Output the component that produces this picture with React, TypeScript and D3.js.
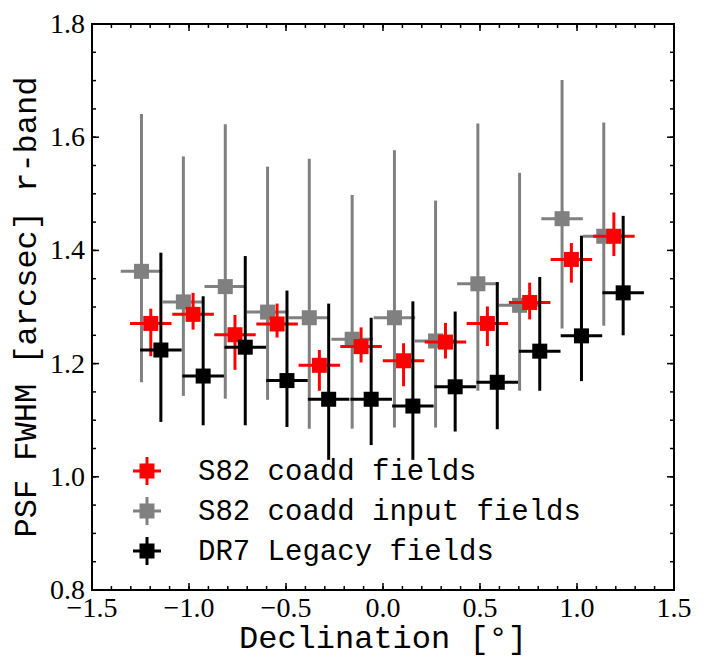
import { useEffect, useRef } from "react";
import * as d3 from "d3";

// ── Data ───────────────────────────────────────────────────────────────────────
const coaddDec = [-1.197, -0.979, -0.763, -0.546, -0.328, -0.113, 0.106, 0.322, 0.538, 0.756, 0.971, 1.19];
const coaddFwhm = [1.271, 1.287, 1.251, 1.27, 1.197, 1.23, 1.205, 1.238, 1.271, 1.308, 1.384, 1.425];
const coaddHi = [1.297, 1.325, 1.286, 1.306, 1.224, 1.264, 1.236, 1.272, 1.301, 1.343, 1.413, 1.467];
const coaddLo = [1.213, 1.26, 1.189, 1.246, 1.152, 1.202, 1.16, 1.209, 1.231, 1.278, 1.343, 1.39];

const inputDec = [-1.245, -1.029, -0.813, -0.595, -0.38, -0.159, 0.059, 0.271, 0.489, 0.704, 0.923, 1.138];
const inputFwhm = [1.363, 1.309, 1.336, 1.291, 1.281, 1.243, 1.281, 1.24, 1.341, 1.303, 1.456, 1.425];
const inputHi = [1.641, 1.566, 1.623, 1.548, 1.562, 1.498, 1.577, 1.488, 1.624, 1.537, 1.701, 1.626];
const inputLo = [1.167, 1.143, 1.138, 1.136, 1.085, 1.085, 1.087, 1.087, 1.152, 1.152, 1.262, 1.267];

const legacyDec = [-1.145, -0.927, -0.71, -0.495, -0.28, -0.061, 0.154, 0.372, 0.589, 0.808, 1.023, 1.238];
const legacyFwhm = [1.224, 1.178, 1.229, 1.17, 1.137, 1.137, 1.125, 1.159, 1.167, 1.222, 1.249, 1.325];
const legacyHi = [1.396, 1.319, 1.39, 1.329, 1.306, 1.281, 1.31, 1.292, 1.344, 1.353, 1.426, 1.461];
const legacyLo = [1.097, 1.091, 1.091, 1.088, 1.03, 1.056, 1.03, 1.08, 1.084, 1.152, 1.169, 1.25];

const binHalfWidth = 0.107;

const xTicks = [-1.5, -1.0, -0.5, 0.0, 0.5, 1.0, 1.5];
const yTicks = [0.8, 1.0, 1.2, 1.4, 1.6, 1.8];

// ── Component ──────────────────────────────────────────────────────────────────
export default function App() {
  const svgRef = useRef<SVGSVGElement>(null);

  useEffect(() => {
    if (!svgRef.current) return;

    const width = 708;
    const height = 670;
    const margin = { top: 24, right: 34, bottom: 80, left: 92 };
    const innerWidth = width - margin.left - margin.right;
    const innerHeight = height - margin.top - margin.bottom;

    const x = d3.scaleLinear().domain([-1.5, 1.5]).range([0, innerWidth]);
    const y = d3.scaleLinear().domain([0.8, 1.8]).range([innerHeight, 0]);

    const svg = d3.select(svgRef.current);
    svg.selectAll("*").remove();

    const g = svg
      .append("g")
      .attr("transform", `translate(${margin.left},${margin.top})`);

    // ── Error bar series (gray under red under black) ─────────────────────────
    type Pt = { x: number; y: number; lo: number; hi: number };
    const series = [
      { color: "#808080", dec: inputDec, v: inputFwhm, lo: inputLo, hi: inputHi },
      { color: "#ff0000", dec: coaddDec, v: coaddFwhm, lo: coaddLo, hi: coaddHi },
      { color: "#000000", dec: legacyDec, v: legacyFwhm, lo: legacyLo, hi: legacyHi },
    ];

    series.forEach((s) => {
      const pts: Pt[] = s.dec.map((d, i) => ({ x: d, y: s.v[i], lo: s.lo[i], hi: s.hi[i] }));
      const sg = g.append("g");
      const pg = sg.selectAll("g").data(pts).enter().append("g");
      pg.append("line")
        .attr("x1", (d) => x(d.x))
        .attr("x2", (d) => x(d.x))
        .attr("y1", (d) => y(d.lo))
        .attr("y2", (d) => y(d.hi))
        .attr("stroke", s.color)
        .attr("stroke-width", 3);
      pg.append("line")
        .attr("x1", (d) => x(d.x - binHalfWidth))
        .attr("x2", (d) => x(d.x + binHalfWidth))
        .attr("y1", (d) => y(d.y))
        .attr("y2", (d) => y(d.y))
        .attr("stroke", s.color)
        .attr("stroke-width", 3);
      pg.append("rect")
        .attr("x", (d) => x(d.x) - 7.5)
        .attr("y", (d) => y(d.y) - 7.5)
        .attr("width", 15)
        .attr("height", 15)
        .attr("fill", s.color);
    });

    // ── Ticks (inward, all four sides) ─────────────────────────────────────────
    const xMinor = d3.range(-1.5, 1.5001, 0.1);
    const yMinor = d3.range(0.8, 1.8001, 0.05);
    const tickG = g.append("g").attr("stroke", "#000").attr("stroke-width", 1.5);
    const addX = (vals: number[], len: number) => {
      vals.forEach((v) => {
        tickG.append("line").attr("x1", x(v)).attr("x2", x(v)).attr("y1", innerHeight).attr("y2", innerHeight - len);
        tickG.append("line").attr("x1", x(v)).attr("x2", x(v)).attr("y1", 0).attr("y2", len);
      });
    };
    const addY = (vals: number[], len: number) => {
      vals.forEach((v) => {
        tickG.append("line").attr("x1", 0).attr("x2", len).attr("y1", y(v)).attr("y2", y(v));
        tickG.append("line").attr("x1", innerWidth).attr("x2", innerWidth - len).attr("y1", y(v)).attr("y2", y(v));
      });
    };
    addX(xMinor, 4);
    addX(xTicks, 7);
    addY(yMinor, 4);
    addY(yTicks, 7);

    // frame
    g.append("rect")
      .attr("width", innerWidth)
      .attr("height", innerHeight)
      .attr("fill", "none")
      .attr("stroke", "#000")
      .attr("stroke-width", 2);

    // ── Tick labels ────────────────────────────────────────────────────────────
    const fmt = d3.format(".1f");
    g.append("g")
      .selectAll("text")
      .data(xTicks)
      .enter()
      .append("text")
      .attr("x", (d) => x(d))
      .attr("y", innerHeight + 27)
      .attr("text-anchor", "middle")
      .attr("font-family", "'Liberation Serif', serif")
      .attr("font-size", 28)
      .text((d) => fmt(d));

    g.append("g")
      .selectAll("text")
      .data(yTicks)
      .enter()
      .append("text")
      .attr("x", -7)
      .attr("y", (d) => y(d) + 9)
      .attr("text-anchor", "end")
      .attr("font-family", "'Liberation Serif', serif")
      .attr("font-size", 28)
      .text((d) => fmt(d));

    // ── Axis labels ────────────────────────────────────────────────────────────
    g.append("text")
      .attr("x", innerWidth / 2)
      .attr("y", innerHeight + 58)
      .attr("text-anchor", "middle")
      .attr("font-family", "'Liberation Mono', monospace")
      .attr("font-size", 32)
      .text("Declination [°]");

    g.append("text")
      .attr("transform", "rotate(-90)")
      .attr("x", -innerHeight / 2)
      .attr("y", -56)
      .attr("text-anchor", "middle")
      .attr("font-family", "'Liberation Mono', monospace")
      .attr("font-size", 32)
      .text("PSF FWHM [arcsec] r-band");

    // ── Legend ─────────────────────────────────────────────────────────────────
    const legendItems = [
      { color: "#ff0000", label: "S82 coadd fields" },
      { color: "#808080", label: "S82 coadd input fields" },
      { color: "#000000", label: "DR7 Legacy fields" },
    ];
    const lg = svg.append("g");
    legendItems.forEach((item, i) => {
      const cx = 147;
      const cy = 471 + i * 40;
      lg.append("line").attr("x1", cx).attr("x2", cx).attr("y1", cy - 14).attr("y2", cy + 14).attr("stroke", item.color).attr("stroke-width", 3);
      lg.append("line").attr("x1", cx - 14).attr("x2", cx + 14).attr("y1", cy).attr("y2", cy).attr("stroke", item.color).attr("stroke-width", 3);
      lg.append("rect").attr("x", cx - 7.5).attr("y", cy - 7.5).attr("width", 15).attr("height", 15).attr("fill", item.color);
      lg.append("text")
        .attr("x", 198)
        .attr("y", cy + 9)
        .attr("font-family", "'Liberation Mono', monospace")
        .attr("font-size", 29)
        .text(item.label);
    });
  }, []);

  return (
    <div style={{ position: "absolute", left: 0, top: 0, background: "#fff" }}>
      <svg ref={svgRef} width="708" height="670" viewBox="0 0 708 670" style={{ display: "block" }} />
    </div>
  );
}
